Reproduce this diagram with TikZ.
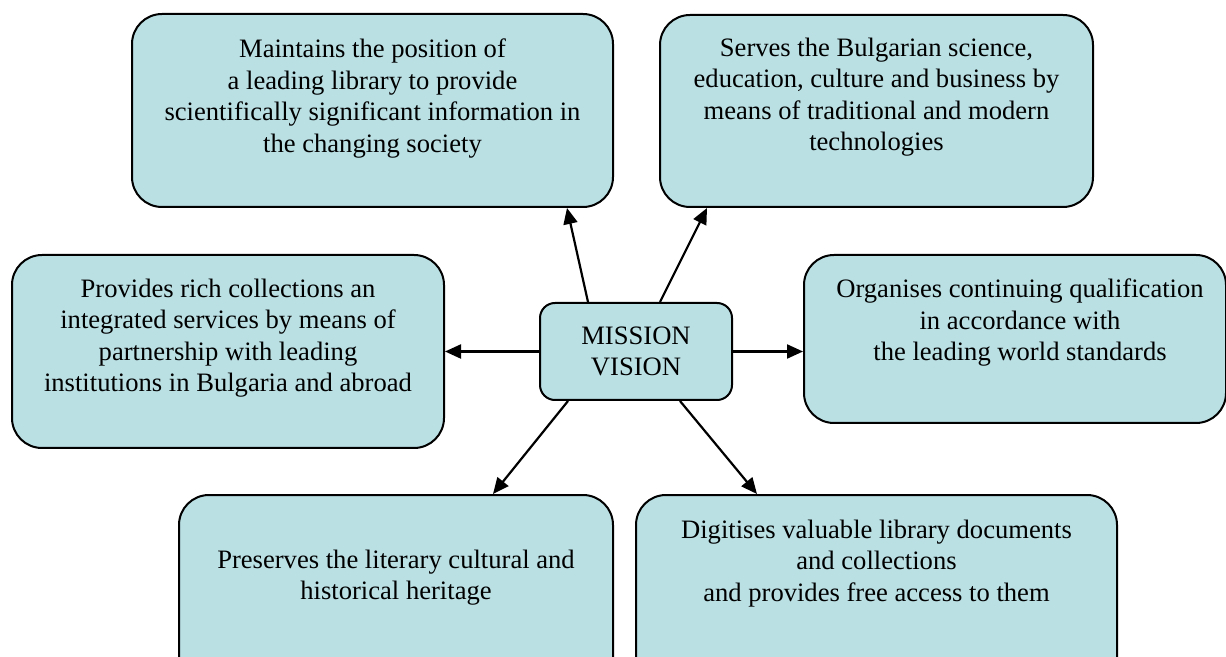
\documentclass[tikz,border=0pt]{standalone}
\usepackage{fontspec}
\setmainfont{Liberation Serif}
\usetikzlibrary{arrows.meta}
\definecolor{paleteal}{RGB}{186,224,228}

\begin{document}
\begin{tikzpicture}[x=1pt,y=1pt,
  box/.style={draw, fill=paleteal, line width=1pt, rounded corners=15pt, inner sep=0pt},
  txt/.style={align=center, inner sep=0pt, anchor=north, font=\fontsize{13.3}{15.75}\selectfont},
  arr/.style={-{Triangle[length=8pt,width=7pt]}, line width=1.1pt}]
\useasboundingbox (0,0) rectangle (613,-328.5);
\clip (0,0) rectangle (613,-328.5);
\coordinate (m) at (318,-175.75);
\coordinate (tl) at (186.25,-55.25);
\coordinate (tr) at (438.25,-55.5);
\coordinate (ml) at (114,-175.75);
\coordinate (mr) at (507.5,-169.5);
\coordinate (bl) at (198,-295.75);
\coordinate (br) at (438.25,-295.75);
% draws boxes
\node[box, minimum width=240.5pt, minimum height=96.5pt] (keep) at (tl) {};
\node[box, minimum width=216.5pt, minimum height=96pt] (serve) at (tr) {};
\node[box, minimum width=216pt, minimum height=96.5pt] (partner) at (ml) {};
\node[box, minimum width=211pt, minimum height=84pt] (qualify) at (mr) {};
\node[box, minimum width=217pt, minimum height=96.5pt] (heritage) at (bl) {};
\node[box, minimum width=240.5pt, minimum height=96.5pt] (digit) at (br) {};
\node[box, rounded corners=7.5pt, minimum width=96pt, minimum height=48.5pt,
  align=center, font=\fontsize{13.3}{15.75}\selectfont] (mission) at (m) {MISSION\\VISION};
% texts in boxes
\node[txt] (keeptxt) at ([yshift=-12.7pt]keep.north) {Maintains the position of\\a leading library to provide\\scientifically significant information in\\the changing society};
\node[txt] (servetxt) at ([yshift=-11.7pt]serve.north) {Serves the Bulgarian science,\\education, culture and business by\\means of traditional and modern\\technologies};
\node[txt] (partnertxt) at ([yshift=-12.2pt]partner.north) {Provides rich collections an\\integrated services by means of\\partnership with leading\\institutions in Bulgaria and abroad};
\node[txt] (qualifytxt) at ([xshift=2.5pt,yshift=-12.2pt]qualify.north) {Organises continuing qualification\\in accordance with\\the leading world standards};
\node[txt] (heritagetxt) at ([yshift=-27.7pt]heritage.north) {Preserves the literary cultural and\\historical heritage};
\node[txt] (digittxt) at ([yshift=-12.7pt]digit.north) {Digitises valuable library documents\\and collections\\and provides free access to them};
% draws arrows
\draw[arr] ([xshift=-24pt]mission.north) -- ([xshift=97.25pt]keep.south);
\draw[arr] ([xshift=12pt]mission.north) -- ([xshift=-84.75pt]serve.south);
\draw[arr] (mission.west) -- (partner.east);
\draw[arr] (mission.east) -- (mission.east -| qualify.west);
\draw[arr] ([xshift=-34pt]mission.south) -- ([xshift=48.5pt]heritage.north);
\draw[arr] ([xshift=22pt]mission.south) -- ([xshift=-59.75pt]digit.north);
\end{tikzpicture}
\end{document}
